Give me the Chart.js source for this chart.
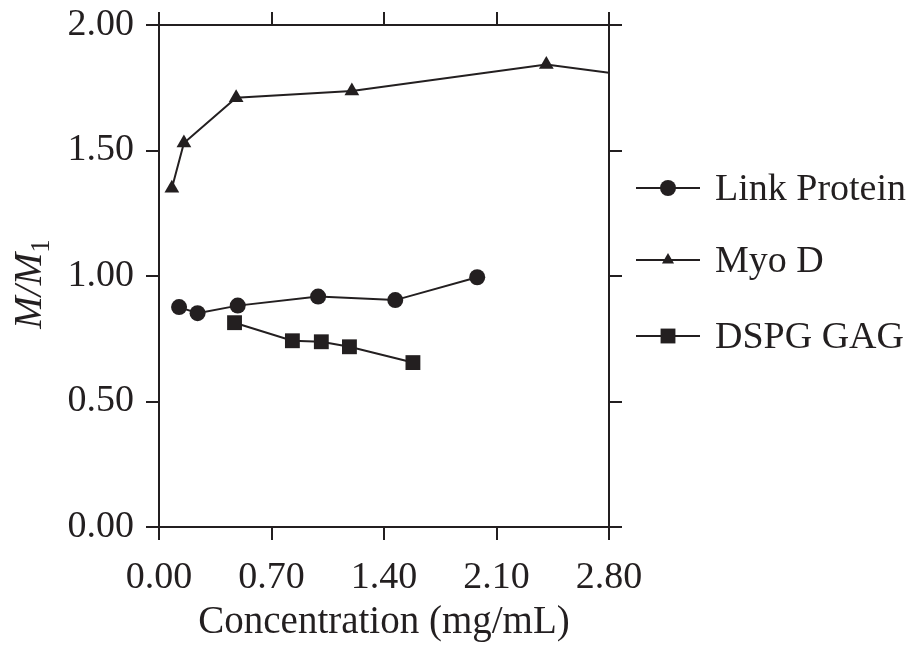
<!DOCTYPE html>
<html>
<head>
<meta charset="utf-8">
<script src="https://cdn.jsdelivr.net/npm/chart.js@4"></script>
<style>
  html, body { margin: 0; padding: 0; background: #ffffff; }
  canvas { display: block; }
</style>
</head>
<body>
<canvas id="chart" width="914" height="646"></canvas>
<script>
        // values
        const xTicks = [0.00, 0.70, 1.40, 2.10, 2.80];
        const yTicks = [0.00, 0.50, 1.00, 1.50, 2.00];

        const linkX = [0.125, 0.24, 0.49, 0.99, 1.47, 1.98];
        const linkY = [0.876, 0.852, 0.882, 0.918, 0.904, 0.995];

        const myoX = [0.08, 0.155, 0.48, 1.20, 2.41, 2.80];
        const myoY = [1.35, 1.53, 1.71, 1.737, 1.843, 1.81];

        const dspgX = [0.47, 0.83, 1.01, 1.185, 1.58];
        const dspgY = [0.814, 0.742, 0.738, 0.718, 0.655];

        const seriesNames = ['Link Protein', 'Myo D', 'DSPG GAG'];

        const ink = '#231f20';
        const serif = '"Liberation Serif", "Times New Roman", serif';

        function toPoints(xs, ys) {
            return xs.map((x, i) => ({ x: x, y: ys[i] }));
        }

        function setTicks(list) {
            return function (scale) {
                scale.ticks = list.map(v => ({ value: v }));
            };
        }

        // legend drawn by hand: short line with the marker in the middle
        const legendPlugin = {
            id: 'sideLegend',
            afterDraw(chart) {
                const ctx = chart.ctx;
                const rows = [188, 260, 336];
                chart.data.datasets.forEach((ds, i) => {
                    const y = rows[i];
                    ctx.save();
                    ctx.strokeStyle = ink;
                    ctx.lineWidth = 2;
                    ctx.beginPath();
                    ctx.moveTo(636, y);
                    ctx.lineTo(700, y);
                    ctx.stroke();
                    ctx.fillStyle = ink;
                    Chart.helpers.drawPoint(ctx, {
                        pointStyle: ds.pointStyle,
                        radius: ds.legendRadius,
                        rotation: 0,
                        borderWidth: 0
                    }, 668, y);
                    ctx.font = '38px ' + serif;
                    ctx.textBaseline = 'middle';
                    ctx.fillText(seriesNames[i], 715, y + 2);
                    ctx.restore();
                });
            }
        };

        // y title with italic M/M and an upright subscript 1
        const yTitlePlugin = {
            id: 'yTitle',
            afterDraw(chart) {
                const ctx = chart.ctx;
                ctx.save();
                ctx.translate(41, 284);
                ctx.rotate(-Math.PI / 2);
                ctx.fillStyle = ink;
                ctx.textBaseline = 'alphabetic';
                ctx.font = 'italic 39px ' + serif;
                const main = 'M/M';
                const w1 = ctx.measureText(main).width;
                ctx.font = '27px ' + serif;
                const w2 = ctx.measureText('1').width;
                const start = -(w1 + w2) / 2;
                ctx.font = 'italic 39px ' + serif;
                ctx.fillText(main, start, 0);
                ctx.font = '27px ' + serif;
                ctx.fillText('1', start + w1, 8);
                ctx.restore();
            }
        };

        const axisGrid = {
            drawOnChartArea: false,
            drawTicks: true,
            tickLength: 13,
            color: ink,
            lineWidth: 2
        };
        const axisBorder = { display: true, color: ink, width: 2 };

        new Chart(document.getElementById('chart'), {
            type: 'line',
            data: {
                datasets: [
                    {
                        label: seriesNames[0],
                        data: toPoints(linkX, linkY),
                        pointStyle: 'circle',
                        pointRadius: 8,
                        legendRadius: 8,
                        borderColor: ink,
                        backgroundColor: ink,
                        pointBackgroundColor: ink,
                        pointBorderWidth: 0,
                        borderWidth: 2
                    },
                    {
                        label: seriesNames[1],
                        data: toPoints(myoX, myoY),
                        pointStyle: 'triangle',
                        pointRadius: myoX.map((x, i) => i === myoX.length - 1 ? 0 : 8.5),
                        legendRadius: 7,
                        borderColor: ink,
                        backgroundColor: ink,
                        pointBackgroundColor: ink,
                        pointBorderWidth: 0,
                        borderWidth: 2
                    },
                    {
                        label: seriesNames[2],
                        data: toPoints(dspgX, dspgY),
                        pointStyle: 'rect',
                        pointRadius: 10.5,
                        legendRadius: 10.5,
                        borderColor: ink,
                        backgroundColor: ink,
                        pointBackgroundColor: ink,
                        pointBorderWidth: 0,
                        borderWidth: 2
                    }
                ]
            },
            options: {
                responsive: false,
                animation: false,
                devicePixelRatio: 1,
                layout: { padding: { top: 0, right: 292, bottom: 0, left: 0 } },
                plugins: {
                    legend: { display: false },
                    tooltip: { enabled: false }
                },
                scales: {
                    x: {
                        type: 'linear',
                        position: 'bottom',
                        min: 0,
                        max: 2.8,
                        afterBuildTicks: setTicks(xTicks),
                        afterFit: s => { s.height = 119; },
                        grid: axisGrid,
                        border: axisBorder,
                        ticks: {
                            color: ink,
                            padding: 15,
                            maxRotation: 0,
                            font: { family: serif, size: 38 },
                            callback: v => v.toFixed(2)
                        },
                        title: {
                            display: true,
                            text: 'Concentration (mg/mL)',
                            color: ink,
                            font: { family: serif, size: 39 },
                            padding: { top: 0, bottom: 0 }
                        }
                    },
                    x2: {
                        type: 'linear',
                        position: 'top',
                        min: 0,
                        max: 2.8,
                        afterBuildTicks: setTicks(xTicks),
                        afterFit: s => { s.height = 25; },
                        grid: axisGrid,
                        border: axisBorder,
                        ticks: { display: false }
                    },
                    y: {
                        type: 'linear',
                        position: 'left',
                        min: 0,
                        max: 2,
                        afterBuildTicks: setTicks(yTicks),
                        afterFit: s => { s.width = 159; s.paddingTop = 0; s.paddingBottom = 0; },
                        grid: axisGrid,
                        border: axisBorder,
                        ticks: {
                            color: ink,
                            padding: 12,
                            font: { family: serif, size: 38, lineHeight: 0.8 },
                            callback: v => v.toFixed(2)
                        }
                    },
                    y2: {
                        type: 'linear',
                        position: 'right',
                        min: 0,
                        max: 2,
                        afterBuildTicks: setTicks(yTicks),
                        afterFit: s => { s.width = 13; },
                        grid: axisGrid,
                        border: axisBorder,
                        ticks: { display: false }
                    }
                }
            },
            plugins: [legendPlugin, yTitlePlugin]
        });
</script>
</body>
</html>
